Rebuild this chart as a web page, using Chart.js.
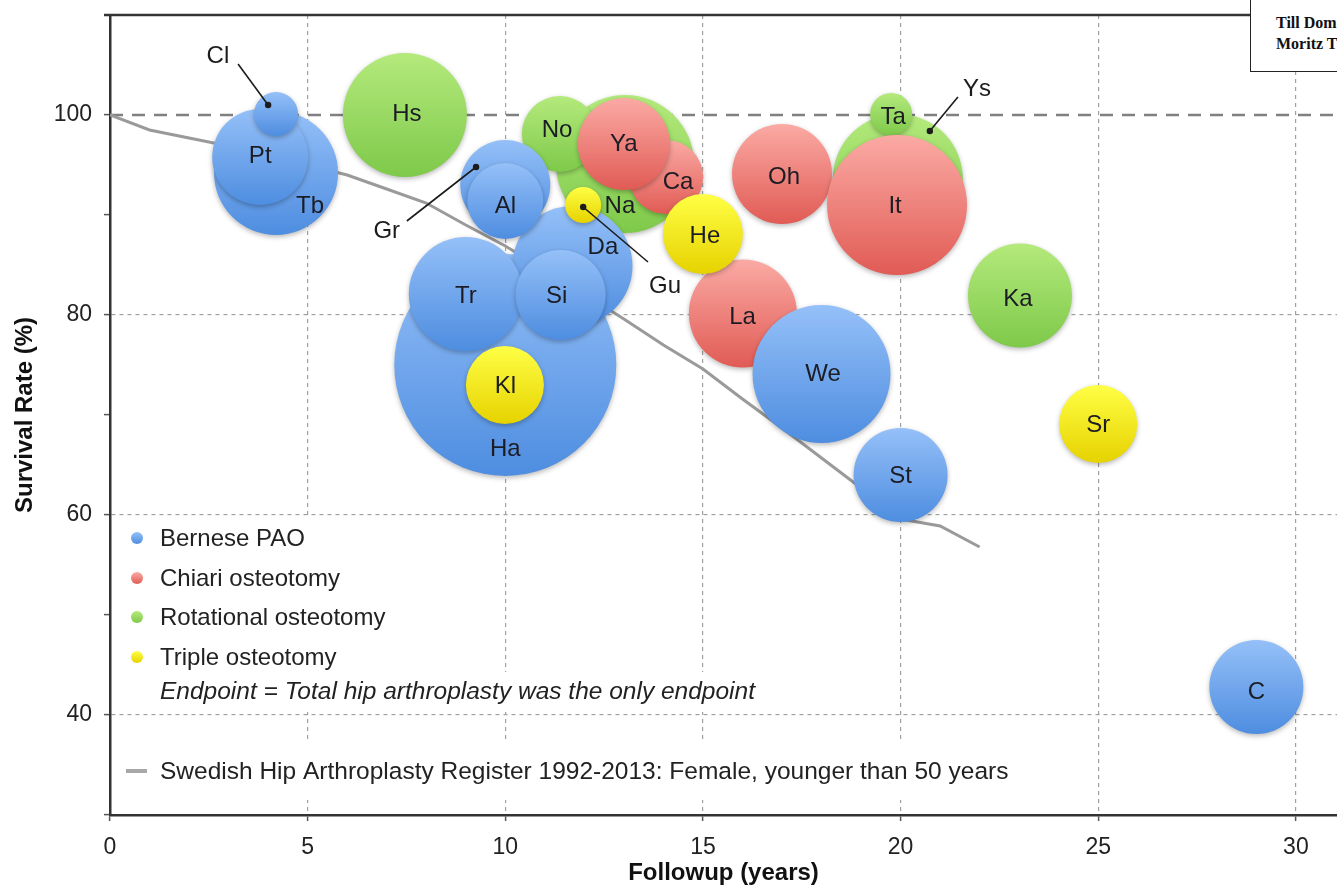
<!DOCTYPE html>
<html><head><meta charset="utf-8">
<script src="https://cdn.jsdelivr.net/npm/chart.js@4.4.1/dist/chart.umd.min.js"></script>
<style>
html,body{margin:0;padding:0;background:#fff;}
#wrap{position:relative;width:1337px;height:886px;overflow:hidden;background:#fff;}
canvas{display:block;}
#note{position:absolute;left:1250px;top:-2px;width:140px;height:74px;border:1px solid #222;background:#fff;font-family:"Liberation Serif","DejaVu Serif",serif;font-weight:bold;font-size:16px;line-height:21px;padding:13px 0 0 25px;box-sizing:border-box;white-space:nowrap;color:#111;}
</style></head>
<body><div id="wrap"><canvas id="c" width="1337" height="886"></canvas><div id="note">Till Dom<br>Moritz T</div></div>
<script>
// ---------- DATA ----------
const groupNames = ['Bernese PAO','Chiari osteotomy','Rotational osteotomy','Triple osteotomy'];
const endpointNote = 'Endpoint = Total hip arthroplasty was the only endpoint';
const registerName = 'Swedish Hip Arthroplasty Register 1992-2013: Female, younger than 50 years';

const swedishYears = [0,1,2,3,4,5,6,7,8,9,10,11,12,13,14,15,16,17,18,19,20,21,22];
const swedishSurvival = [100,98.5,97.7,96.9,96.0,95.0,94.0,92.6,91.2,89.0,86.9,84.5,82.1,79.6,77.0,74.6,71.6,68.7,65.7,62.7,59.6,58.9,56.8];

// Bernese PAO
const paoStudies  = ['Tb','Pt','Cl','Ha','Da','Tr','Si','Gr','Al','We','St','C'];
const paoFollowup = [4.2,3.8,4.2,10.0,11.7,9.0,11.4,10.0,10.0,18.0,20.0,29.0];
const paoSurvival = [94.2,95.8,100.1,75.0,84.9,82.1,82.0,93.0,91.4,74.1,64.0,42.8];
const paoBubble   = [62,48,22,111,60,57,45,45,38,69,47,47];
const paoLabelX   = [5.06,3.8,null,10.0,12.47,9.0,11.3,null,10.0,18.04,20.0,29.0];
const paoLabelY   = [90.9,95.9,null,66.6,86.8,81.9,81.9,null,90.9,74.1,63.9,42.3];

// Chiari osteotomy
const chiariStudies  = ['Ca','Ya','Oh','La','It'];
const chiariFollowup = [14.07,13.0,17.0,16.01,19.91];
const chiariSurvival = [93.8,97.1,94.1,80.15,91.0];
const chiariBubble   = [37,46,50,54,70];
const chiariLabelX   = [14.37,13.0,17.05,16.0,19.86];
const chiariLabelY   = [93.3,97.1,93.8,79.8,90.9];

// Rotational osteotomy
const rotStudies  = ['Hs','Na','No','Ys','Ta','Ka'];
const rotFollowup = [7.46,13.03,11.38,19.93,19.76,23.02];
const rotSurvival = [100.0,95.1,98.1,93.6,100.1,81.95];
const rotBubble   = [62,69,38,65,21,52];
const rotLabelX   = [7.51,12.9,11.31,null,19.81,22.97];
const rotLabelY   = [100.1,90.9,98.5,null,99.8,81.6];

// Triple osteotomy
const tripleStudies  = ['Gu','Kl','He','Sr'];
const tripleFollowup = [11.97,9.99,15.0,25.0];
const tripleSurvival = [91.0,73.0,88.1,69.1];
const tripleBubble   = [18,39,40,39];
const tripleLabelX   = [null,10.0,15.05,25.0];
const tripleLabelY   = [null,72.9,87.9,69.0];

// Callout labels
const calloutNames = ['Cl','Gr','Gu','Ys'];
const calloutTextX = [2.73,7.0,14.04,21.93];
const calloutTextY = [105.9,88.4,82.9,102.6];
const calloutLineX = [3.24,7.51,13.61,21.45];
const calloutLineY = [105.1,89.4,85.3,101.8];
const calloutDotX  = [4.0,9.26,11.97,20.74];
const calloutDotY  = [101.0,94.8,90.8,98.4];

const referenceLevel = 100;
const xTickValues = [0,5,10,15,20,25,30];
const yTickValues = [30,40,50,60,70,80,90,100,110];
const yLabelValues = [40,60,80,100];
const yGridValues = [40,60,80];

// ---------- STYLE ----------
const FONT = '"Liberation Sans", Arial, Helvetica, sans-serif';
const palette = {
  blue:   ['#95c0f8','#4e8de0','#5e9ae8'],
  red:    ['#fbaaa4','#e15b55','#ea716c'],
  green:  ['#b4ea7c','#7ec94a','#8fd45a'],
  yellow: ['#ffff45','#e6d200','#f2e400']
};

function bubbleFill(c){
  return (ctx) => {
    const chart = ctx.chart, raw = ctx.raw;
    if (!raw || !chart.chartArea || !chart.scales.y) return c[2];
    const py = chart.scales.y.getPixelForValue(raw.y);
    const g = chart.ctx.createLinearGradient(0, py - raw.r, 0, py + raw.r);
    g.addColorStop(0, c[0]); g.addColorStop(1, c[1]);
    return g;
  };
}
function pts(xs, ys, rs){ return xs.map((x,i)=>({x:x, y:ys[i], r:rs[i]})); }

const groups = [
  {names:paoStudies, lx:paoLabelX, ly:paoLabelY},
  {names:chiariStudies, lx:chiariLabelX, ly:chiariLabelY},
  {names:rotStudies, lx:rotLabelX, ly:rotLabelY},
  {names:tripleStudies, lx:tripleLabelX, ly:tripleLabelY}
];

const extras = {
  id:'extras',
  beforeDatasetsDraw(chart){
    const {ctx, chartArea:a, scales:{x,y}} = chart;
    ctx.save();
    // white boxes behind legend text
    ctx.fillStyle = '#fff';
    ctx.fillRect(a.left+2, 518, 292, 194);
    ctx.fillRect(a.left+2, 672, 662, 40);
    ctx.fillRect(a.left+2, 742, 910, 58);
    // reference line at 100%
    const py = y.getPixelForValue(referenceLevel);
    ctx.strokeStyle = '#808080'; ctx.lineWidth = 2.5; ctx.setLineDash([13,9]);
    ctx.beginPath(); ctx.moveTo(a.left, py); ctx.lineTo(a.right, py); ctx.stroke();
    ctx.restore();
  },
  beforeDatasetDraw(chart, args){
    if (args.meta.type === 'bubble'){
      chart.ctx.save();
      chart.ctx.shadowColor = 'rgba(0,0,0,0.28)';
      chart.ctx.shadowBlur = 5;
      chart.ctx.shadowOffsetY = 2;
    }
  },
  afterDatasetDraw(chart, args){
    if (args.meta.type === 'bubble') chart.ctx.restore();
  },
  afterDatasetsDraw(chart){
    const {ctx, chartArea:a, scales:{x,y}} = chart;
    ctx.save();
    // bubble labels
    ctx.fillStyle = '#1c1c24';
    ctx.font = '24px ' + FONT;
    ctx.textAlign = 'center'; ctx.textBaseline = 'middle';
    groups.forEach(g => g.names.forEach((n,i) => {
      if (g.lx[i] == null) return;
      ctx.fillText(n, x.getPixelForValue(g.lx[i]), y.getPixelForValue(g.ly[i]));
    }));
    // callouts
    calloutNames.forEach((n,i) => {
      ctx.fillStyle = '#1c1c1c';
      ctx.fillText(n, x.getPixelForValue(calloutTextX[i]), y.getPixelForValue(calloutTextY[i]));
      ctx.strokeStyle = '#1c1c1c'; ctx.lineWidth = 1.6;
      ctx.beginPath();
      ctx.moveTo(x.getPixelForValue(calloutLineX[i]), y.getPixelForValue(calloutLineY[i]));
      ctx.lineTo(x.getPixelForValue(calloutDotX[i]), y.getPixelForValue(calloutDotY[i]));
      ctx.stroke();
      ctx.beginPath();
      ctx.arc(x.getPixelForValue(calloutDotX[i]), y.getPixelForValue(calloutDotY[i]), 3.2, 0, Math.PI*2);
      ctx.fill();
    });
    // legend
    const cols = [palette.blue, palette.red, palette.green, palette.yellow];
    const ys = [538, 578, 617, 657];
    ctx.textAlign = 'left';
    ctx.font = '24px ' + FONT;
    groupNames.forEach((name,i) => {
      const g = ctx.createLinearGradient(0, ys[i]-6, 0, ys[i]+6);
      g.addColorStop(0, cols[i][0]); g.addColorStop(1, cols[i][1]);
      ctx.fillStyle = g;
      ctx.beginPath(); ctx.arc(a.left+27, ys[i], 6, 0, Math.PI*2); ctx.fill();
      ctx.fillStyle = '#222';
      ctx.fillText(name, a.left+50, ys[i]+1);
    });
    ctx.font = 'italic 24.5px ' + FONT;
    ctx.fillText(endpointNote, a.left+50, 692);
    ctx.font = '24.5px ' + FONT;
    ctx.fillText(registerName, a.left+50, 772);
    ctx.strokeStyle = '#a8a8a8'; ctx.lineWidth = 4;
    ctx.beginPath(); ctx.moveTo(a.left+16, 771); ctx.lineTo(a.left+37, 771); ctx.stroke();
    // top border
    ctx.strokeStyle = '#333'; ctx.lineWidth = 2.5;
    ctx.beginPath(); ctx.moveTo(a.left-6, a.top); ctx.lineTo(1252, a.top); ctx.stroke();
    ctx.restore();
  }
};

new Chart(document.getElementById('c'), {
  data: {
    datasets: [
      {type:'bubble', label:groupNames[3], order:0, data:pts(tripleFollowup,tripleSurvival,tripleBubble),
       backgroundColor:bubbleFill(palette.yellow), borderWidth:0},
      {type:'bubble', label:groupNames[0], order:1, data:pts(paoFollowup,paoSurvival,paoBubble),
       backgroundColor:bubbleFill(palette.blue), borderWidth:0},
      {type:'bubble', label:groupNames[1], order:2, data:pts(chiariFollowup,chiariSurvival,chiariBubble),
       backgroundColor:bubbleFill(palette.red), borderWidth:0},
      {type:'bubble', label:groupNames[2], order:3, data:pts(rotFollowup,rotSurvival,rotBubble),
       backgroundColor:bubbleFill(palette.green), borderWidth:0},
      {type:'line', label:registerName, order:4, data:swedishYears.map((v,i)=>({x:v,y:swedishSurvival[i]})),
       borderColor:'#9a9a9a', borderWidth:3, pointRadius:0, tension:0, fill:false}
    ]
  },
  options: {
    responsive:false, animation:false, events:[], devicePixelRatio:1,
    layout:{autoPadding:false, padding:{top:15, right:0, left:0, bottom:0}},
    plugins:{legend:{display:false}, tooltip:{enabled:false}},
    scales:{
      x:{type:'linear', min:0, max:31.04,
        afterBuildTicks: s => { s.ticks = xTickValues.map(v=>({value:v})); },
        afterFit: s => { s.height = 71; s.paddingLeft = 0; s.paddingRight = 0; },
        ticks:{color:'#222', font:{family:FONT, size:23}, padding:13, maxRotation:0},
        grid:{color:'#a0a0a0', lineWidth:1.2, tickLength:6, tickColor:'#555', tickWidth:1.5},
        border:{color:'#333', width:2.5, dash:[4,4]},
        title:{display:true, text:'Followup (years)', color:'#111', font:{family:FONT, size:24, weight:'bold'}, padding:{top:0,bottom:-2}}
      },
      y:{type:'linear', min:30, max:110,
        afterBuildTicks: s => { s.ticks = yTickValues.map(v=>({value:v})); },
        afterFit: s => { s.width = 110; s.paddingTop = 0; s.paddingBottom = 0; },
        ticks:{color:'#222', font:{family:FONT, size:23}, padding:12,
          callback: v => yLabelValues.includes(v) ? String(v) : ''},
        grid:{color: c => (c.tick && yGridValues.includes(c.tick.value)) ? '#a0a0a0' : 'rgba(0,0,0,0)',
          lineWidth:1.2, tickLength:6, tickColor: c => (c.tick && c.tick.value===110) ? 'rgba(0,0,0,0)' : '#555', tickWidth:1.5},
        border:{color:'#333', width:2.5, dash:[4,4]},
        title:{display:true, text:'Survival Rate (%)', color:'#111', font:{family:FONT, size:24, weight:'bold'}, padding:{top:11,bottom:0}}
      }
    }
  },
  plugins:[extras]
});
</script>
</body></html>
